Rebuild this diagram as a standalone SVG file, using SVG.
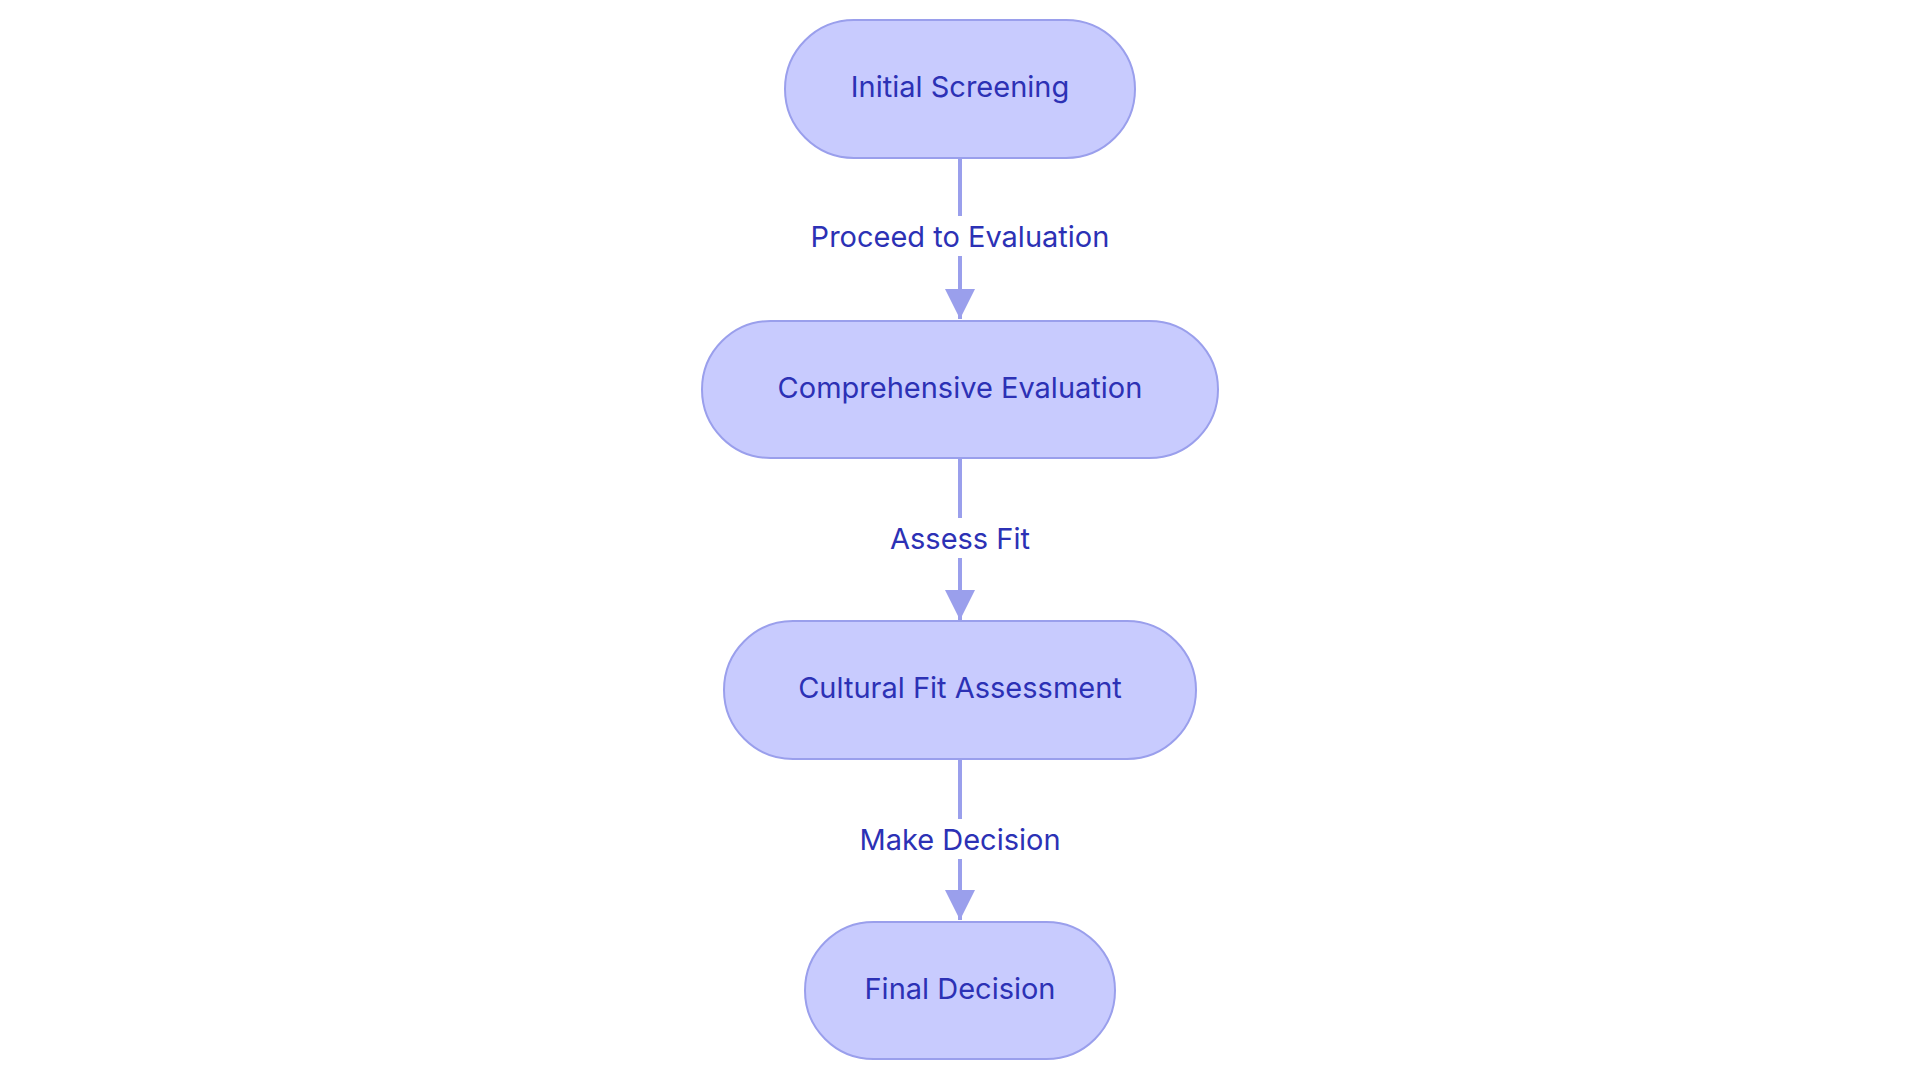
<svg xmlns="http://www.w3.org/2000/svg" width="1920" height="1083" viewBox="0 0 1920 1083">
<style>
.n{fill:#c8cbfe;stroke:#9a9fec;stroke-width:2}
.t{font-family:Inter,"Liberation Sans",sans-serif;font-size:29px;fill:#2c31b5;text-anchor:middle;dominant-baseline:central}
.e{stroke:#9a9fec;stroke-width:4;fill:none}
.lb{fill:#fff}
</style>
<defs><marker id="a" markerUnits="userSpaceOnUse" markerWidth="32" markerHeight="32" refX="30" refY="15" orient="auto"><path d="M0,0L30,15L0,30z" fill="#9a9fec"/></marker></defs>
<rect width="1920" height="1083" fill="#fff"/>
<g id="edges">
<path class="e" d="M960,158V319" marker-end="url(#a)"/>
<path class="e" d="M960,458V620" marker-end="url(#a)"/>
<path class="e" d="M960,759V920" marker-end="url(#a)"/>
<rect class="lb" x="785" y="216" width="350" height="40"/>
<text class="t" x="960" y="236">Proceed to Evaluation</text>
<rect class="lb" x="880" y="518" width="160" height="40"/>
<text class="t" x="960" y="538">Assess Fit</text>
<rect class="lb" x="845" y="819" width="230" height="40"/>
<text class="t" x="960" y="839">Make Decision</text>
</g>
<g id="n1"><rect class="n" x="785" y="20" width="350" height="138" rx="69"/><text class="t" x="960" y="86">Initial Screening</text></g>
<g id="n2"><rect class="n" x="702" y="321" width="516" height="137" rx="68.5"/><text class="t" x="960" y="387">Comprehensive Evaluation</text></g>
<g id="n3"><rect class="n" x="724" y="621" width="472" height="138" rx="69"/><text class="t" x="960" y="687">Cultural Fit Assessment</text></g>
<g id="n4"><rect class="n" x="805" y="922" width="310" height="137" rx="68.5"/><text class="t" x="960" y="988">Final Decision</text></g>
</svg>
